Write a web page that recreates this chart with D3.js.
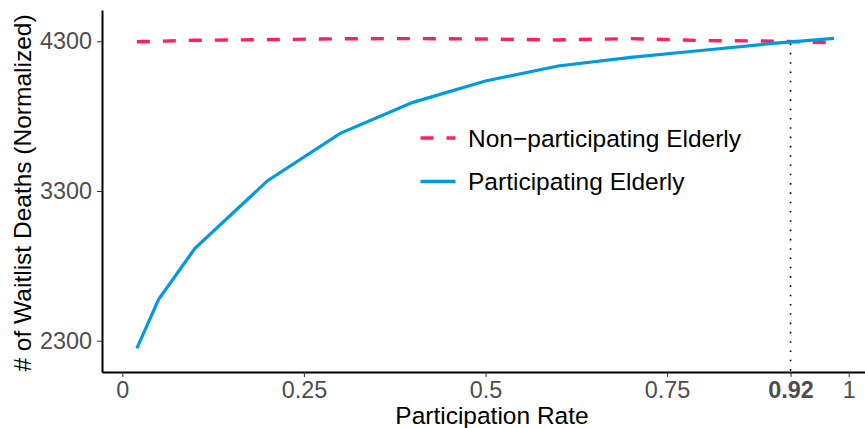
<!DOCTYPE html>
<html lang="en">
<head>
    <meta charset="UTF-8">
    <script src="https://d3js.org/d3.v7.min.js"></script>
    <style>
        body {
            margin: 0;
            padding: 0;
            background-color: #ffffff;
            font-family: 'Liberation Sans', Arial, sans-serif;
        }

        svg {
            display: block;
        }

        .axis .domain {
            stroke: #000000;
            stroke-width: 2px;
        }

        .axis .tick line {
            stroke: #333333;
            stroke-width: 1px;
        }

        .axis .tick text {
            fill: #4d4d4d;
            font-size: 23.4px;
            font-family: 'Liberation Sans', Arial, sans-serif;
        }

        .title, .legend-text {
            fill: #000000;
            font-size: 24.5px;
        }
    </style>
</head>
<body>
    <svg id="chart"></svg>

    <script>
        // Data
        const rates = [0.02, 0.05, 0.1, 0.2, 0.3, 0.4, 0.5, 0.6, 0.7, 0.8, 0.9, 0.98];
        const nonParticipating = [4297, 4300, 4307, 4311, 4317, 4318, 4315, 4309, 4318, 4305, 4301, 4290];
        const participating = [2249, 2577, 2917, 3369, 3685, 3892, 4035, 4135, 4193, 4240, 4288, 4320];

        const xTicks = [0, 0.25, 0.5, 0.75, 0.92, 1];
        const xTickLabels = ["0", "0.25", "0.5", "0.75", "0.92", "1"];
        const yTicks = [2300, 3300, 4300];

        const crossRate = 0.92;
        const crossValue = 4285;

        const seriesNames = ["Non\u2212participating Elderly", "Participating Elderly"];
        const seriesColors = ["#ff1f5b", "#009ade"];

        const totalWidth = 865;
        const totalHeight = 428;

        const margin = { top: 10, right: -4, bottom: 56, left: 102 };

        const svg = d3.select("#chart")
            .attr("width", totalWidth)
            .attr("height", totalHeight);

        // Scales (ggplot-style expanded limits)
        const x = d3.scaleLinear()
            .domain([-0.028, 1.028])
            .range([margin.left, totalWidth - margin.right]);

        const y = d3.scaleLinear()
            .domain([2091, 4509])
            .range([totalHeight - margin.bottom, margin.top]);

        // Axes
        const xAxis = d3.axisBottom(x)
            .tickValues(xTicks)
            .tickFormat((d, i) => xTickLabels[i])
            .tickSize(5)
            .tickSizeOuter(0)
            .tickPadding(4.5);

        const yAxis = d3.axisLeft(y)
            .tickValues(yTicks)
            .tickFormat(d3.format("d"))
            .tickSize(5)
            .tickSizeOuter(0)
            .tickPadding(5);

        const gx = svg.append("g")
            .attr("class", "axis")
            .attr("transform", `translate(0,${totalHeight - margin.bottom})`)
            .call(xAxis);

        gx.selectAll(".tick text")
            .filter(d => d === crossRate)
            .style("font-weight", "bold");

        svg.append("g")
            .attr("class", "axis")
            .attr("transform", `translate(${margin.left},0)`)
            .call(yAxis);

        // Dotted marker at the crossing point
        svg.append("line")
            .attr("x1", x(crossRate))
            .attr("x2", x(crossRate))
            .attr("y1", y(crossValue))
            .attr("y2", totalHeight - margin.bottom)
            .attr("stroke", "#000000")
            .attr("stroke-width", 1.6)
            .attr("stroke-dasharray", "1.6,7.7");

        // Lines
        const line = d3.line()
            .x((d, i) => x(rates[i]))
            .y(d => y(d));

        svg.append("path")
            .datum(nonParticipating)
            .attr("fill", "none")
            .attr("stroke", seriesColors[0])
            .attr("stroke-width", 3.4)
            .attr("stroke-dasharray", "13,13")
            .attr("d", line);

        svg.append("path")
            .datum(participating)
            .attr("fill", "none")
            .attr("stroke", seriesColors[1])
            .attr("stroke-width", 3.2)
            .attr("d", line);

        // Legend
        const legend = svg.append("g")
            .attr("transform", "translate(420.5,138)");

        seriesNames.forEach((name, i) => {
            const row = legend.append("g")
                .attr("transform", `translate(0,${i * 43.5})`);

            row.append("line")
                .attr("x1", 0)
                .attr("x2", 35)
                .attr("y1", 0)
                .attr("y2", 0)
                .attr("stroke", seriesColors[i])
                .attr("stroke-width", 3.4)
                .attr("stroke-dasharray", i === 0 ? "13,13" : null);

            row.append("text")
                .attr("class", "legend-text")
                .attr("x", 47.5)
                .attr("y", 0)
                .attr("dy", "0.36em")
                .text(name);
        });

        // Axis titles
        svg.append("text")
            .attr("class", "title")
            .attr("x", 492)
            .attr("y", 424)
            .attr("text-anchor", "middle")
            .text("Participation Rate");

        svg.append("text")
            .attr("class", "title")
            .attr("transform", "translate(31,193) rotate(-90)")
            .attr("text-anchor", "middle")
            .text("# of Waitlist Deaths (Normalized)");
    </script>
</body>
</html>
